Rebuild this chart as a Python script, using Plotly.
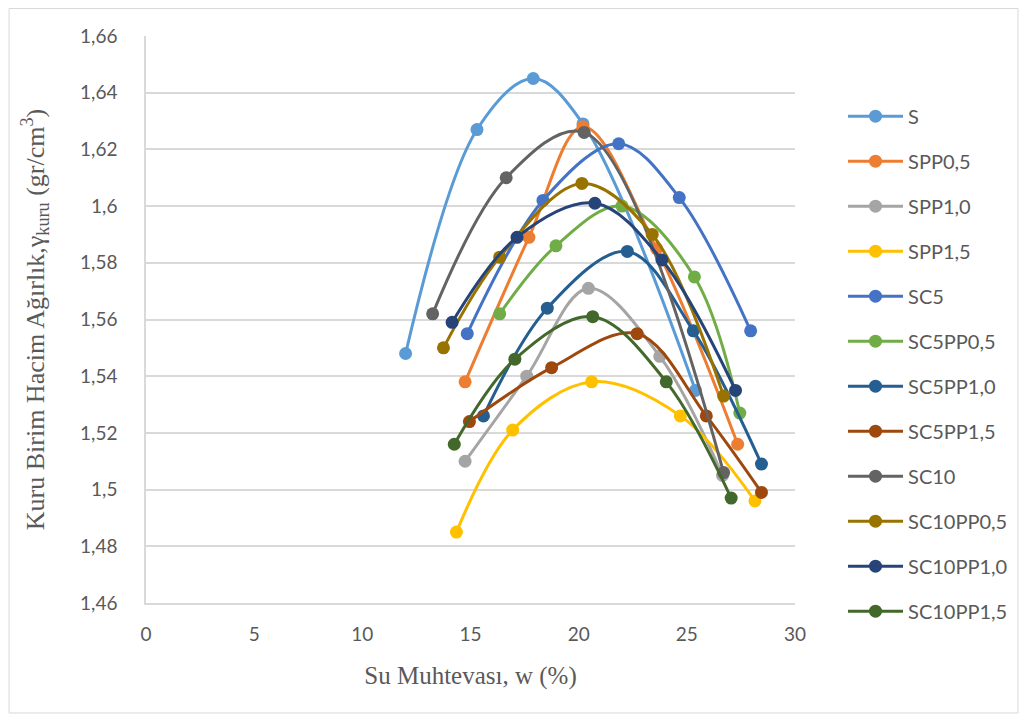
import plotly.graph_objects as go

names = ["S", "SPP0,5", "SPP1,0", "SPP1,5", "SC5", "SC5PP0,5", "SC5PP1,0",
         "SC5PP1,5", "SC10", "SC10PP0,5", "SC10PP1,0", "SC10PP1,5"]
colors = ["#5B9BD5", "#ED7D31", "#A5A5A5", "#FFC000", "#4472C4", "#70AD47",
          "#255E91", "#9E480E", "#636363", "#997300", "#264478", "#43682B"]

x_S = [12.0, 15.3, 17.9, 20.2, 25.4]
y_S = [1.548, 1.627, 1.645, 1.629, 1.535]
x_SPP05 = [14.75, 17.7, 20.2, 23.6, 27.35]
y_SPP05 = [1.538, 1.589, 1.628, 1.585, 1.516]
x_SPP10 = [14.75, 17.6, 20.45, 23.75, 26.65]
y_SPP10 = [1.510, 1.540, 1.571, 1.547, 1.505]
x_SPP15 = [14.35, 16.95, 20.6, 24.7, 28.15]
y_SPP15 = [1.485, 1.521, 1.538, 1.526, 1.496]
x_SC5 = [14.85, 18.35, 21.85, 24.65, 27.95]
y_SC5 = [1.555, 1.602, 1.622, 1.603, 1.556]
x_SC5PP05 = [16.35, 18.95, 22.0, 25.35, 27.45]
y_SC5PP05 = [1.562, 1.586, 1.600, 1.575, 1.527]
x_SC5PP10 = [15.6, 18.55, 22.25, 25.3, 28.45]
y_SC5PP10 = [1.526, 1.564, 1.584, 1.556, 1.509]
x_SC5PP15 = [14.95, 18.75, 22.7, 25.9, 28.45]
y_SC5PP15 = [1.524, 1.543, 1.555, 1.526, 1.499]
x_SC10 = [13.25, 16.65, 20.25, 26.7]
y_SC10 = [1.562, 1.610, 1.626, 1.506]
x_SC10PP05 = [13.75, 16.35, 20.15, 23.4, 26.7]
y_SC10PP05 = [1.550, 1.582, 1.608, 1.590, 1.533]
x_SC10PP10 = [14.15, 17.15, 20.75, 23.85, 27.25]
y_SC10PP10 = [1.559, 1.589, 1.601, 1.581, 1.535]
x_SC10PP15 = [14.25, 17.05, 20.65, 24.05, 27.05]
y_SC10PP15 = [1.516, 1.546, 1.561, 1.538, 1.497]

xs = [x_S, x_SPP05, x_SPP10, x_SPP15, x_SC5, x_SC5PP05, x_SC5PP10, x_SC5PP15,
      x_SC10, x_SC10PP05, x_SC10PP10, x_SC10PP15]
ys = [y_S, y_SPP05, y_SPP10, y_SPP15, y_SC5, y_SC5PP05, y_SC5PP10, y_SC5PP15,
      y_SC10, y_SC10PP05, y_SC10PP10, y_SC10PP15]

y_tickvals = [1.46, 1.48, 1.50, 1.52, 1.54, 1.56, 1.58, 1.60, 1.62, 1.64, 1.66]
y_ticktext = ["1,46", "1,48", "1,5", "1,52", "1,54", "1,56", "1,58", "1,6", "1,62", "1,64", "1,66"]
x_tickvals = [0, 5, 10, 15, 20, 25, 30]
x_ticktext = ["0", "5", "10", "15", "20", "25", "30"]

fig = go.Figure()
for i, (n, c, xv, yv) in enumerate(zip(names, colors, xs, ys)):
    fig.add_trace(go.Scatter(
        x=xv, y=yv, name=n, mode="lines+markers",
        line=dict(color=c, width=3, shape="spline", smoothing=1.0),
        marker=dict(color=c, size=13),
        legendgroup=f"g{i}",
    ))

tick_font = dict(family="Lato, Liberation Sans, sans-serif", size=19, color="#595959")
xtitle_font = dict(family="Liberation Serif, serif", size=25, color="#595959")
ytitle_font = dict(family="Liberation Serif, serif", size=26, color="#595959")

fig.update_layout(
    width=1019, height=712,
    margin=dict(l=138, r=232, t=28, b=117, autoexpand=False),
    paper_bgcolor="white", plot_bgcolor="white",
    showlegend=True,
    legend=dict(
        x=1.074, y=0.893, xanchor="left", yanchor="top",
        font=dict(family="Lato, Liberation Sans, sans-serif", size=20, color="#595959"),
        traceorder="grouped", tracegroupgap=16, itemwidth=55,
        bgcolor="rgba(0,0,0,0)", maxheight=1.0,
    ),
    xaxis=dict(
        range=[0, 30], tickvals=x_tickvals, ticktext=x_ticktext,
        showgrid=False, zeroline=False, showline=True, linecolor="#D9D9D9", linewidth=1.5,
        ticks="", tickfont=tick_font, ticklabelstandoff=13, automargin=False,
        title=dict(text="Su Muhtevası, w (%)", font=xtitle_font, standoff=23),
    ),
    yaxis=dict(
        range=[1.46, 1.66], tickvals=y_tickvals, ticktext=y_ticktext,
        showgrid=True, gridcolor="#D9D9D9", gridwidth=1.5, zeroline=False,
        showline=True, linecolor="#D9D9D9", linewidth=1.5,
        ticks="", tickfont=tick_font, ticklabelstandoff=23, automargin=False,
        title=dict(text="Kuru Birim Hacim Ağırlık,γ<sub>kuru</sub> (gr/cm<sup>3</sup>)",
                   font=ytitle_font, standoff=28),
    ),
    shapes=[dict(type="rect", xref="paper", yref="paper",
                 x0=-0.211, x1=1.3436, y0=-0.194, y1=1.0485,
                 line=dict(color="#D9D9D9", width=1), fillcolor="rgba(0,0,0,0)", layer="below")],
)

fig.write_html("out.html")
